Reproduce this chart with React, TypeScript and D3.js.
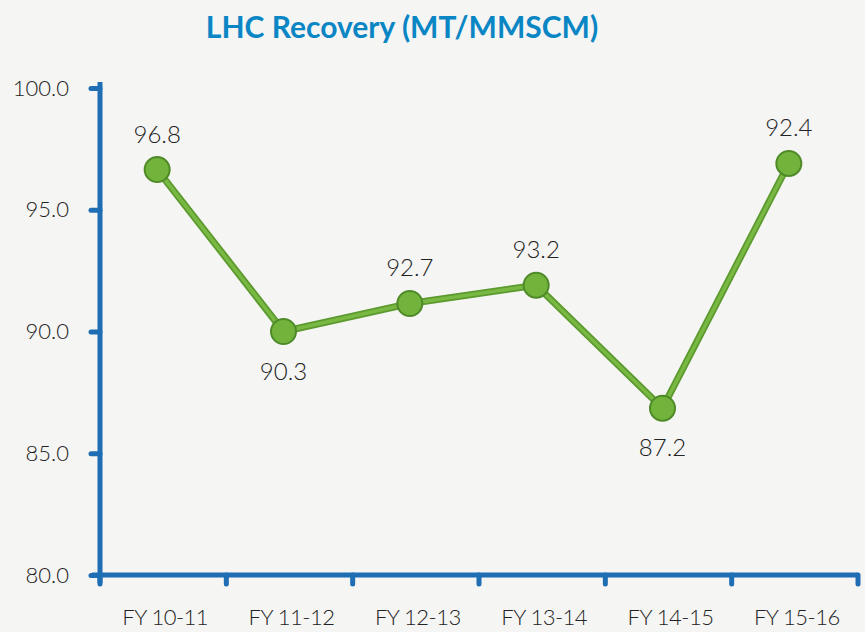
import React, { useEffect, useRef } from 'react';
import * as d3 from 'd3';

const categories = ['FY 10-11', 'FY 11-12', 'FY 12-13', 'FY 13-14', 'FY 14-15', 'FY 15-16'];
// heights of the dots as drawn in the picture
const plotted = [96.65, 90.0, 91.15, 91.9, 86.85, 96.9];
// text printed next to each dot
const valueLabels = ['96.8', '90.3', '92.7', '93.2', '87.2', '92.4'];
const labelBelow = [false, true, false, false, true, false];
const yTicks = [80, 85, 90, 95, 100];

function App() {
    const svgRef = useRef<SVGSVGElement>(null);
    const width = 865;
    const height = 632;

    useEffect(() => {
        const svg = d3.select(svgRef.current);
        svg.selectAll('*').remove();

        const margin = { top: 88, right: 7, bottom: 57, left: 100 };
        const textFont = 'Lato, sans-serif';
        const textColor = '#222';

        svg.append('rect')
            .attr('width', width)
            .attr('height', height)
            .attr('fill', '#f5f5f4');

        svg.append('text')
            .attr('x', 402)
            .attr('y', 38)
            .attr('text-anchor', 'middle')
            .style('font-family', 'Lato, sans-serif')
            .style('font-weight', 700)
            .style('font-size', '30px')
            .style('fill', '#0b86c4')
            .text('LHC Recovery (MT/MMSCM)');

        const xScale = d3.scaleBand()
            .domain(categories)
            .range([margin.left, width - margin.right]);

        const yScale = d3.scaleLinear()
            .domain([80, 100])
            .range([height - margin.bottom, margin.top]);

        const axisColor = '#1f6db3';

        // Y axis
        const yAxis = svg.append('g')
            .attr('transform', `translate(${margin.left}, 0)`)
            .call(d3.axisLeft(yScale).tickValues(yTicks).tickFormat(d3.format('.1f')).tickSize(9).tickPadding(22));
        yAxis.select('.domain')
            .attr('stroke', axisColor)
            .attr('stroke-width', 5)
            .attr('d', `M0,${margin.top - 6}V${height - margin.bottom + 8}`);
        yAxis.selectAll('.tick line').attr('stroke', axisColor).attr('stroke-width', 5).attr('stroke-linecap', 'round');
        yAxis.selectAll('.tick text')
            .style('font-family', textFont)
            .style('font-weight', 300)
            .style('font-size', '22px')
            .style('fill', textColor);

        // X axis
        const boundaries = categories.map(c => xScale(c)!).concat([width - margin.right]);
        const xg = svg.append('g');
        xg.append('line')
            .attr('x1', margin.left - 8)
            .attr('x2', width - margin.right)
            .attr('y1', yScale(80))
            .attr('y2', yScale(80))
            .attr('stroke', axisColor)
            .attr('stroke-width', 5);
        xg.selectAll('.xt')
            .data(boundaries)
            .join('line')
            .attr('x1', d => d)
            .attr('x2', d => d)
            .attr('y1', yScale(80))
            .attr('y2', yScale(80) + 9)
            .attr('stroke', axisColor)
            .attr('stroke-width', 5)
            .attr('stroke-linecap', 'round');
        xg.selectAll('.xl')
            .data(categories)
            .join('text')
            .attr('x', d => xScale(d)! + xScale.bandwidth() / 2 + 2)
            .attr('y', 625)
            .attr('text-anchor', 'middle')
            .style('font-family', textFont)
            .style('font-weight', 300)
            .style('font-size', '22px')
            .style('letter-spacing', '-0.5px')
            .style('fill', textColor)
            .text(d => d);

        const px = (i: number) => xScale(categories[i])! + xScale.bandwidth() / 2 - 6;
        const py = (i: number) => yScale(plotted[i]);

        const line = d3.line<number>()
            .x((_, i) => px(i))
            .y(d => yScale(d));

        svg.append('path')
            .datum(plotted)
            .attr('d', line)
            .attr('fill', 'none')
            .attr('stroke', '#5c9a2e')
            .attr('stroke-width', 7);
        svg.append('path')
            .datum(plotted)
            .attr('d', line)
            .attr('fill', 'none')
            .attr('stroke', '#78b843')
            .attr('stroke-width', 3.5);

        svg.selectAll('.dot')
            .data(plotted)
            .join('circle')
            .attr('cx', (_, i) => px(i))
            .attr('cy', (_, i) => py(i))
            .attr('r', 12.5)
            .attr('fill', '#72b33c')
            .attr('stroke', '#4f8a28')
            .attr('stroke-width', 2);

        svg.selectAll('.vl')
            .data(valueLabels)
            .join('text')
            .attr('x', (_, i) => px(i))
            .attr('y', (_, i) => labelBelow[i] ? py(i) + 48 : py(i) - 27)
            .attr('text-anchor', 'middle')
            .style('font-family', textFont)
            .style('font-weight', 300)
            .style('font-size', '24px')
            .style('fill', textColor)
            .text(d => d);
    }, []);

    return (
        <div style={{ position: 'absolute', left: 0, top: 0 }}>
            <svg ref={svgRef} width={width} height={height} style={{ display: 'block' }}></svg>
        </div>
    );
}

export default App;
